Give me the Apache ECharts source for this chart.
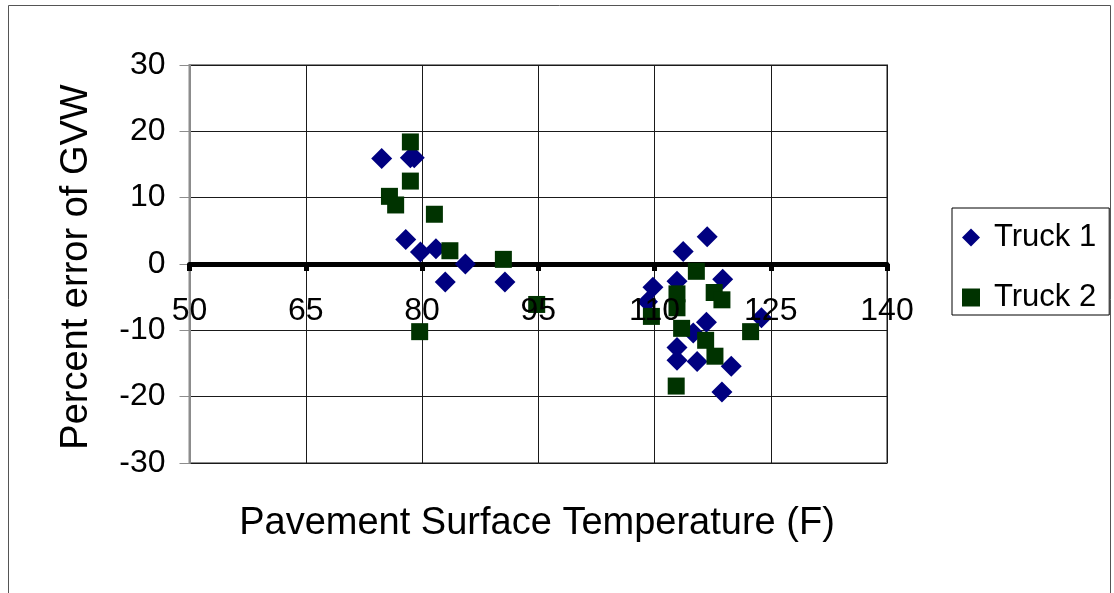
<!DOCTYPE html>
<html>
<head>
<meta charset="utf-8">
<script src="https://cdn.jsdelivr.net/npm/echarts@6/dist/echarts.min.js"></script>
<style>
  html, body { margin: 0; padding: 0; background: #fff; }
  #chart { width: 1114px; height: 593px; }
</style>
</head>
<body>
<div id="chart"></div>
<script>
// Pavement temperature (F) vs. percent error of gross vehicle weight
const truck1 = [
  [74.8, 15.9], [78.5, 16.0], [79.0, 16.0], [77.9, 3.7], [79.8, 1.8],
  [81.8, 2.3], [85.6, 0.0], [83.0, -2.7], [90.7, -2.7], [116.8, 4.1],
  [113.7, 1.9], [109.8, -3.5], [109.1, -5.7], [112.9, -2.6], [118.8, -2.3],
  [116.7, -8.8], [115.0, -10.4], [112.9, -12.6], [112.9, -14.5], [115.5, -14.7],
  [119.9, -15.4], [118.7, -19.3], [123.8, -8.1]
];
const truck2 = [
  [78.5, 18.4], [78.5, 12.5], [75.8, 10.2], [76.6, 8.9], [81.6, 7.5],
  [83.6, 2.0], [90.5, 0.7], [94.8, -6.1], [79.7, -10.2], [115.4, -1.1],
  [112.9, -4.5], [112.9, -6.6], [117.7, -4.3], [118.7, -5.4], [109.6, -7.9],
  [113.5, -9.7], [116.6, -11.5], [117.8, -13.9], [112.8, -18.4], [122.4, -10.2]
];
const seriesNames = ['Truck 1', 'Truck 2'];
const xTitle = 'Pavement Surface Temperature (F)';
const yTitle = 'Percent error of GVW';
const xRange = [50, 140, 15];
const yRange = [-30, 30, 10];

const FONT = '"Liberation Sans", Arial, sans-serif';
const GRID = { left: 189.5, top: 65, right: 227, bottom: 130 };
const chart = echarts.init(document.getElementById('chart'), null, { renderer: 'canvas' });

// the temperature axis sits on y = 0, so shift it up from the plot's bottom edge
const plotHeight = 593 - GRID.top - GRID.bottom;
const zeroOffset = -plotHeight * (0 - yRange[0]) / (yRange[1] - yRange[0]);

chart.setOption({
  backgroundColor: '#ffffff',
  animation: false,
  textStyle: { fontFamily: FONT },
  grid: Object.assign({
    show: true, borderColor: '#8c8c8c', borderWidth: 2, backgroundColor: 'transparent'
  }, GRID),
  legend: {
    orient: 'vertical',
    left: 952, top: 208,
    padding: [14, 13, 2, 10],
    itemGap: 29,
    itemWidth: 18, itemHeight: 18,
    borderColor: '#000', borderWidth: 1,
    textStyle: { fontSize: 31, lineHeight: 30, color: '#000', fontFamily: FONT, padding: [0, 0, 0, 9] },
    data: [
      { name: seriesNames[0], icon: 'diamond' },
      { name: seriesNames[1], icon: 'rect', itemStyle: { color: '#003300' } }
    ]
  },
  xAxis: [
    {
      // axis line, ticks and grid lines (beneath the markers)
      type: 'value', position: 'bottom',
      min: xRange[0], max: xRange[1], interval: xRange[2],
      offset: zeroOffset,
      axisLine: { show: true, onZero: false, lineStyle: { color: '#000', width: 5 } },
      axisTick: { show: true, length: 7, lineStyle: { color: '#000', width: 5 } },
      axisLabel: { show: false },
      splitLine: { show: true, lineStyle: { color: '#1a1a1a', width: 1 } }
    },
    {
      // tick labels, drawn above the markers
      type: 'value', position: 'bottom', z: 10,
      min: xRange[0], max: xRange[1], interval: xRange[2],
      offset: zeroOffset,
      axisLine: { show: false, onZero: false },
      axisTick: { show: false },
      axisLabel: { fontSize: 32, color: '#000', margin: 31, fontFamily: FONT },
      splitLine: { show: false }
    }
  ],
  yAxis: {
    type: 'value',
    min: yRange[0], max: yRange[1], interval: yRange[2],
    axisLine: { show: true, onZero: false, lineStyle: { color: '#8c8c8c', width: 2 } },
    axisTick: { show: true, length: 10, lineStyle: { color: '#8c8c8c', width: 1 } },
    axisLabel: { fontSize: 32, color: '#000', margin: 24, fontFamily: FONT },
    splitLine: { show: true, lineStyle: { color: '#1a1a1a', width: 1 } }
  },
  graphic: [
    {
      type: 'rect', silent: true, z: -1,
      shape: { x: 8.5, y: 5.5, width: 1102, height: 600 },
      style: { fill: 'none', stroke: '#555', lineWidth: 1 }
    },
    {
      type: 'text', x: 537, y: 524,
      style: { text: xTitle, fontSize: 38, fill: '#000', fontFamily: FONT, textAlign: 'center', textVerticalAlign: 'middle' }
    },
    {
      type: 'text', x: 77, y: 267, rotation: Math.PI / 2,
      style: { text: yTitle, fontSize: 38, fill: '#000', fontFamily: FONT, textAlign: 'center', textVerticalAlign: 'middle' }
    }
  ],
  series: [
    {
      name: seriesNames[0], type: 'scatter', data: truck1, xAxisIndex: 0,
      symbol: 'diamond', symbolSize: 21,
      itemStyle: { color: '#000080', opacity: 1 }, z: 3
    },
    {
      name: seriesNames[1], type: 'scatter', data: truck2, xAxisIndex: 0,
      symbol: 'rect', symbolSize: 17,
      itemStyle: { color: '#003300', opacity: 1 }, z: 4
    }
  ]
});
</script>
</body>
</html>
